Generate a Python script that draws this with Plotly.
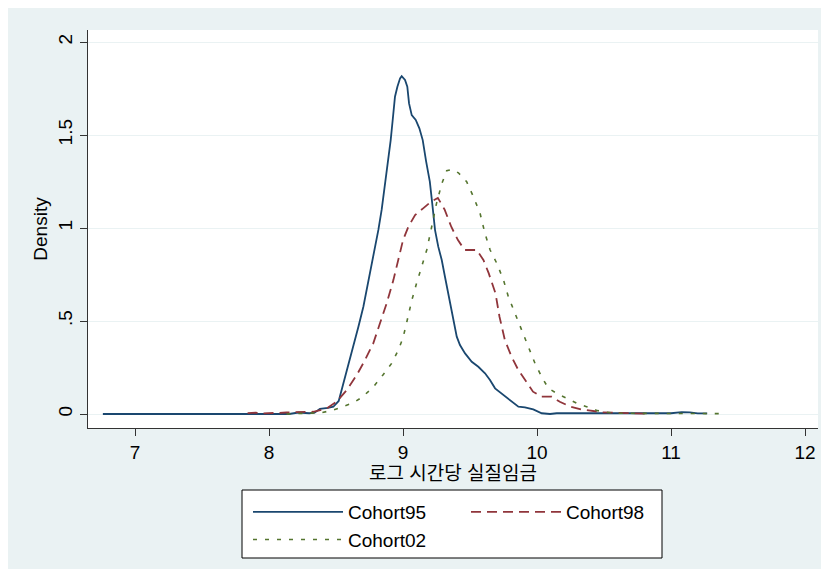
import plotly.graph_objects as go

# kernel density estimates
x95 = [6.76, 7.5, 7.9, 8.08, 8.15, 8.22, 8.30, 8.34, 8.38, 8.44, 8.48, 8.52, 8.555, 8.592,
       8.629, 8.667, 8.704, 8.741, 8.778, 8.816, 8.841, 8.866, 8.890, 8.908, 8.923, 8.940,
       8.958, 8.978, 8.990, 9.015, 9.032, 9.045, 9.065, 9.095, 9.122, 9.147, 9.172, 9.20,
       9.218, 9.239, 9.263, 9.289, 9.313, 9.338, 9.363, 9.383, 9.401, 9.425, 9.463, 9.513,
       9.562, 9.612, 9.649, 9.687, 9.749, 9.811, 9.861, 9.910, 9.972, 10.035, 10.097,
       10.147, 10.40, 10.7, 11.0, 11.08, 11.14, 11.2, 11.27]
y95 = [0, 0, 0, 0.003, 0.0, 0.008, 0.004, 0.007, 0.028, 0.033, 0.039, 0.07, 0.165, 0.254,
       0.362, 0.469, 0.577, 0.71, 0.85, 0.99, 1.10, 1.23, 1.36, 1.473, 1.581, 1.706,
       1.76, 1.805, 1.817, 1.796, 1.76, 1.67, 1.607, 1.581, 1.536, 1.473, 1.36, 1.25,
       1.133, 0.989, 0.90, 0.828, 0.738, 0.649, 0.559, 0.469, 0.416, 0.371, 0.326, 0.281,
       0.254, 0.219, 0.183, 0.138, 0.102, 0.066, 0.039, 0.036, 0.025, 0.004, 0.0,
       0.004, 0.004, 0.006, 0.004, 0.01, 0.009, 0.003, 0.003]

x98 = [7.84, 7.9, 7.95, 8.05, 8.13, 8.2, 8.33, 8.43, 8.505, 8.58, 8.655, 8.716, 8.778,
       8.828, 8.878, 8.928, 8.965, 9.0, 9.04, 9.09, 9.15, 9.21, 9.26, 9.31, 9.36, 9.41,
       9.46, 9.55, 9.60, 9.64, 9.69, 9.72, 9.76, 9.81, 9.86, 9.91, 9.97, 10.035, 10.11,
       10.17, 10.25, 10.33, 10.40, 10.49, 10.6, 10.69, 10.82]
y98 = [0.005, 0.007, 0.003, 0.004, 0.008, 0.01, 0.012, 0.03, 0.066, 0.129, 0.21, 0.29, 0.38,
       0.488, 0.595, 0.72, 0.828, 0.935, 1.007, 1.07, 1.106, 1.142, 1.162, 1.10, 1.007, 0.935,
       0.882, 0.882, 0.828, 0.756, 0.649, 0.523, 0.398, 0.308, 0.237, 0.183, 0.12, 0.093, 0.093,
       0.066, 0.039, 0.025, 0.018, 0.009, 0.006, 0.004, 0.002]

x02 = [8.13, 8.25, 8.33, 8.39, 8.48, 8.555, 8.63, 8.70, 8.78, 8.85, 8.915, 8.965, 9.0, 9.03,
       9.065, 9.10, 9.14, 9.177, 9.214, 9.25, 9.29, 9.326, 9.37, 9.413, 9.475, 9.525, 9.575,
       9.612, 9.65, 9.70, 9.75, 9.786, 9.836, 9.886, 9.935, 9.985, 10.035, 10.085, 10.147,
       10.22, 10.30, 10.37, 10.45, 10.57, 10.8, 11.0, 11.2, 11.36]
y02 = [0, 0.002, 0.004, 0.007, 0.021, 0.039, 0.061, 0.093, 0.147, 0.21, 0.272, 0.344, 0.41,
       0.50, 0.61, 0.70, 0.792, 0.882, 1.007, 1.133, 1.24, 1.308, 1.315, 1.297, 1.249, 1.169,
       1.079, 0.97, 0.882, 0.81, 0.72, 0.631, 0.541, 0.452, 0.362, 0.272, 0.2, 0.138, 0.111,
       0.084, 0.057, 0.039, 0.018, 0.004, 0.003, 0.004, 0.002, 0.002]

x_ticks = [7, 8, 9, 10, 11, 12]
y_ticks = [0, 0.5, 1, 1.5, 2]
y_ticktext = ["0", ".5", "1", "1.5", "2"]

# the page body adds an 8px white margin, so the figure is 16px smaller than the window
OFF = 8
W, H = 829 - 2 * OFF, 577 - 2 * OFF
L, R, T, B = 80, 3, 22, 141
PW, PH = W - L - R, H - T - B
FONT = "Arial, 'Liberation Sans', 'Noto Sans CJK KR', sans-serif"
BG = "#eaf2f3"


def px(xp):
    # screen pixel -> paper coordinate
    return (xp - OFF - L) / PW


def py(yp):
    return (H - B - (yp - OFF)) / PH


fig = go.Figure()
fig.add_trace(go.Scatter(x=x95, y=y95, mode="lines", name="Cohort95",
                         line=dict(color="#1a476f", width=1.8), legend="legend"))
fig.add_trace(go.Scatter(x=x98, y=y98, mode="lines", name="Cohort98",
                         line=dict(color="#90353b", width=1.8, dash="10px,6px"), legend="legend2"))
fig.add_trace(go.Scatter(x=x02, y=y02, mode="lines", name="Cohort02",
                         line=dict(color="#55752f", width=1.6, dash="4px,8px"), legend="legend"))

leg = dict(orientation="v", bgcolor="rgba(0,0,0,0)", borderwidth=0, itemwidth=90,
           font=dict(family=FONT, size=19, color="black"), tracegroupgap=0,
           xanchor="left", yanchor="top", itemclick=False)

fig.update_layout(
    width=W, height=H,
    margin=dict(l=L, r=R, t=T, b=B, autoexpand=False),
    paper_bgcolor=BG, plot_bgcolor="white",
    font=dict(family=FONT, size=19, color="black"),
    xaxis=dict(range=[6.649, 12.097], tickvals=x_ticks, showgrid=False, zeroline=False,
               showline=True, linecolor="#333", linewidth=1, ticks="outside", ticklen=7,
               tickcolor="#333", tickfont=dict(size=19),
               title=dict(text="로그 시간당 실질임금", font=dict(size=19), standoff=2)),
    yaxis=dict(range=[-0.0753, 2.065], tickvals=y_ticks, ticktext=y_ticktext, tickangle=-90,
               showgrid=True, gridcolor=BG, gridwidth=1, zeroline=False,
               showline=True, linecolor="#333", linewidth=1, ticks="outside", ticklen=7,
               tickcolor="#333", tickfont=dict(size=19),
               title=dict(text="Density", font=dict(size=19), standoff=2)),
    legend=dict(leg, x=px(248), y=py(493)),
    legend2=dict(leg, x=px(466), y=py(493)),
    showlegend=True,
    shapes=[
        dict(type="rect", xref="paper", yref="paper", x0=px(242), x1=px(662), y0=py(558), y1=py(490),
             line=dict(color="black", width=1), fillcolor="white", layer="above"),
    ],
)

fig.write_html("out.html")
